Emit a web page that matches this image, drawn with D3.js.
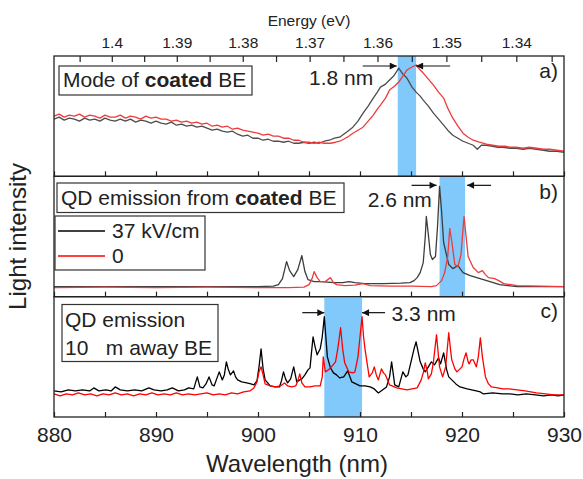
<!DOCTYPE html>
<html>
<head>
<meta charset="utf-8">
<script src="https://cdn.jsdelivr.net/npm/d3@7"></script>
<style>
body { margin: 0; background: #fff; }
text { font-family: "Liberation Sans", Arial, sans-serif; fill: #222; }
</style>
</head>
<body>
<div id="chart"></div>
<script>
// ---- data, intensity in arbitrary units, 0..120 per panel ----
const wavelengthTicks = [880, 890, 900, 910, 920, 930];
const wavelengthMinor = [885, 895, 905, 915, 925];
const energyTicks = [1.4, 1.39, 1.38, 1.37, 1.36, 1.35, 1.34];
const energyMinor = [1.405, 1.395, 1.385, 1.375, 1.365, 1.355, 1.345, 1.335];

// a) mode of coated BE
const modeBlack = [[880,57],[880.5,59],[881,56],[881.5,58],[882,57],[882.5,55],[883,58],[883.5,56],[884,57],[884.5,55],[885,58],[885.5,56],[886,55],[886.5,57],[887,55],[887.5,57],[888,54],[888.5,56],[889,55],[889.5,53],[890,55],[890.5,53],[891,52],[891.5,54],[892,51],[892.5,52],[893,50],[893.5,51],[894,49],[894.5,50],[895,48],[895.5,46],[896,47],[896.5,45],[897,44],[897.5,45],[898,42],[898.5,40],[899,41],[899.5,38],[900,38],[900.5,36],[901,37],[901.5,35],[902,35],[902.5,34],[903,35],[903.5,33],[904,33],[904.5,34],[905,33],[905.5,34],[906,33],[906.5,35],[907,36],[907.5,38],[908,39],[908.4,42],[908.8,45],[909.3,49],[909.8,55],[910.3,63],[910.8,70],[911.3,78],[911.7,84],[912,89],[912.5,92],[912.9,96],[913.3,100],[913.8,108],[914.2,102],[914.6,98],[915.1,89],[915.5,84],[915.9,80],[916.2,76],[916.7,70],[917.2,63],[917.7,57],[918.2,51],[918.6,46],[919.1,41],[919.6,38],[920.1,35],[920.6,33],[921.1,31],[921.5,27],[921.9,31],[922.4,31],[923,30],[923.5,29],[924,29],[924.7,28],[925.3,28],[926,27],[926.6,28],[927.3,27],[928,26],[928.6,25],[929.3,25],[930,24]];
const modeRed = [[880,60],[880.5,62],[881,59],[881.5,61],[882,60],[882.5,62],[883,59],[883.5,61],[884,60],[884.5,58],[885,61],[885.5,59],[886,59],[886.5,61],[887,58],[887.5,60],[888,59],[888.5,57],[889,60],[889.5,58],[890,59],[890.5,57],[891,57],[891.5,55],[892,56],[892.5,54],[893,55],[893.5,53],[894,54],[894.5,52],[895,53],[895.5,50],[896,51],[896.5,49],[897,50],[897.5,47],[898,48],[898.5,46],[899,45],[899.5,44],[900,43],[900.5,41],[901,42],[901.5,40],[902,40],[902.5,38],[903,38],[903.5,36],[904,36],[904.5,34],[905,34],[905.5,33],[906,34],[906.5,33],[907.1,33],[907.6,34],[908,35],[908.4,37],[908.9,40],[909.3,43],[909.8,46],[910.3,49],[910.8,55],[911.3,61],[911.7,67],[912,71],[912.5,78],[912.9,86],[913.4,90],[913.8,94],[914.2,100],[914.6,106],[915.1,109],[915.5,111],[915.9,106],[916.2,103],[916.7,97],[917.2,91],[917.7,84],[918.2,78],[918.6,68],[919.1,58],[919.6,50],[920.1,43],[920.6,39],[921.1,36],[921.7,34],[922.4,32],[923,31],[923.6,30],[924.2,30],[924.7,29],[925.3,29],[926,28],[926.6,29],[927.3,28],[928,27],[928.6,27],[929.3,26],[930,25]];

// b) QD emission from coated BE (37 kV/cm and 0)
const coatedBlack = [[880,10],[885,10],[890,10],[895,10],[900,10],[901.5,10.5],[902,12],[902.4,18],[902.8,35],[903.1,26],[903.5,20],[903.9,27],[904.3,41],[904.6,25],[904.9,17],[905.5,15],[906.2,15],[907.4,14],[908.3,14],[908.9,15],[909.5,14],[910.5,13],[912.3,13],[914,13.5],[914.9,14],[915.3,16],[915.6,19],[915.9,24],[916.2,34],[916.4,60],[916.5,80],[916.7,62],[916.9,42],[917.1,37],[917.4,40],[917.6,70],[917.8,110],[918,85],[918.2,54],[918.7,32],[919.1,28],[919.6,31],[920.1,24],[920.8,21],[922.1,17],[923.7,12],[925.4,10],[930,10]];
const coatedRed = [[880,9],[885,9.5],[890,9],[895,9.5],[900,9],[903,9],[904.5,9.5],[905,12],[905.3,18],[905.5,25],[905.8,19],[906.1,15],[906.6,15],[907.1,19],[907.4,14],[907.7,12],[908.5,11],[909.5,11.5],[910.3,13],[911,11],[913,10.5],[915,10.5],[917,10],[917.5,11],[918,16],[918.3,24],[918.6,40],[918.8,68],[919,55],[919.3,32],[919.6,30],[919.9,42],[920.2,80],[920.4,60],[920.6,40],[921.1,29],[921.6,24],[922,26],[922.3,22],[922.6,19],[923.2,18],[923.6,16],[924.1,13],[925.4,11],[930,10]];

// c) QD emission 10 um away from BE
const awayBlack = [[880,26],[880.7,25],[881.4,27],[882.1,26],[882.8,27],[883.5,26],[883.9,29],[884.4,26],[885.1,27],[885.6,26],[886,30],[886.5,27],[887.2,26],[887.9,27],[888.6,26],[889.3,29],[889.8,27],[890.5,26],[891.1,27],[891.6,29],[892.2,26],[892.8,27],[893.2,29],[893.7,28],[894.05,40],[894.3,30],[894.6,29],[894.9,33],[895.2,40],[895.5,32],[895.7,31],[895.95,38],[896.2,45],[896.5,37],[896.7,42],[896.9,55],[897.1,47],[897.3,42],[897.6,46],[897.8,40],[898,37],[898.4,35],[898.9,34],[899.3,33],[899.6,32],[899.9,36],[900.1,50],[900.3,68],[900.5,48],[900.7,37],[901.2,31],[901.7,30],[902.1,30],[902.3,36],[902.5,45],[902.7,38],[902.9,34],[903.2,38],[903.5,50],[903.7,40],[903.8,35],[904.1,37],[904.3,38],[904.6,42],[904.9,47],[905.1,49],[905.25,65],[905.4,80],[905.6,70],[905.8,62],[906.1,68],[906.3,80],[906.5,100],[906.65,80],[906.8,60],[907.1,49],[907.4,44],[907.7,42],[908,39],[908.4,40],[908.8,46],[909.2,35],[909.6,33],[910,31],[910.5,31],[911,30],[911.4,28],[911.8,24],[912.2,27],[912.6,30],[912.9,40],[913.1,55],[913.3,40],[913.4,32],[913.8,30],[914.2,45],[914.5,40],[914.7,42],[915,55],[915.3,68],[915.5,75],[915.7,65],[915.9,55],[916.2,48],[916.4,45],[916.7,50],[917,55],[917.3,52],[917.7,59],[917.9,53],[918.2,64],[918.5,47],[918.7,40],[919,37],[919.4,33],[919.8,30],[920.5,28],[921.4,26],[921.8,25],[922.1,23],[923,24],[924,23],[924.7,23],[925.5,22],[926.3,23],[927.2,22],[928,21],[928.8,22],[929.4,21],[930,22]];
const awayRed = [[880,23],[880.6,21],[881.2,23],[881.8,22],[882.4,24],[883,22],[883.6,23],[884.2,21],[884.8,23],[885.4,22],[886,24],[886.6,22],[887.2,23],[887.8,21],[888.4,23],[889,22],[889.6,24],[890.2,22],[890.8,23],[891.4,22],[892,24],[892.6,22],[893.2,23],[893.8,22],[894.4,23],[895,24],[895.6,22],[896.2,23],[896.8,22],[897.4,24],[898,23],[898.6,25],[899.2,26],[899.6,29],[899.9,35],[900.1,45],[900.3,50],[900.5,42],[900.7,33],[901.2,31],[901.7,30],[902.2,31],[902.6,34],[902.9,31],[903.3,30],[903.7,31],[903.9,36],[904.1,43],[904.3,34],[904.6,30],[905.1,30],[905.6,31],[906.1,31],[906.3,40],[906.4,60],[906.6,45],[906.9,47],[907.2,50],[907.6,55],[907.85,70],[908.1,89],[908.3,68],[908.5,54],[908.9,45],[909.3,44],[909.5,45],[909.8,60],[910,80],[910.2,100],[910.35,80],[910.5,67],[910.9,40],[911.2,44],[911.4,50],[911.6,42],[911.8,37],[912.1,48],[912.3,44],[912.5,42],[912.9,32],[913.6,29],[914.1,28],[914.6,27],[915.1,28],[915.6,29],[916,37],[916.2,44],[916.4,54],[916.6,45],[916.7,38],[917,43],[917.2,55],[917.5,82],[917.7,60],[917.8,50],[918.1,40],[918.4,50],[918.7,84],[918.9,65],[919,57],[919.3,48],[919.5,45],[920,50],[920.2,58],[920.4,64],[920.6,55],[920.7,53],[920.9,57],[921.1,57],[921.4,50],[921.6,60],[921.8,79],[922,60],[922.3,40],[922.6,33],[922.9,30],[923.5,29],[924,28],[924.6,28],[925.4,27],[926.2,26],[927.3,24],[928.2,23],[929,22],[930,22]];

// highlighted wavelength windows (nm) and their labels
const bandA = [913.7, 915.5];
const bandB = [917.8, 920.3];
const bandC = [906.5, 910.2];
const bandLabels = ['1.8 nm', '2.6 nm', '3.3 nm'];
const legendLabels = ['37 kV/cm', '0'];

// ---- layout ----
const width = 583, height = 479;
const plotLeft = 54, plotRight = 564, plotTop = 56, plotBottom = 417;
const panelH = (plotBottom - plotTop) / 3;

const svg = d3.select('#chart').append('svg')
    .attr('width', width)
    .attr('height', height);

const defs = svg.append('defs');
defs.append('marker')
    .attr('id', 'head')
    .attr('viewBox', '0 0 10 10')
    .attr('refX', 10).attr('refY', 5)
    .attr('markerWidth', 9).attr('markerHeight', 7)
    .attr('markerUnits', 'userSpaceOnUse')
    .attr('orient', 'auto')
    .append('path')
    .attr('d', 'M0,0 L10,5 L0,10 Z')
    .attr('fill', '#111');

const x = d3.scaleLinear().domain([880, 930]).range([plotLeft, plotRight]);

const panels = [
    { black: modeBlack, red: modeRed, band: bandA, ink: ['#4d4d4d', '#ee3b3b'], tag: 'a)',
      arrows: [[-34, -1], [34, 0]], arrowY: 10, label: [905.0, 29], tagY: 22 },
    { black: coatedBlack, red: coatedRed, band: bandB, ink: ['#3d3d3d', '#ee3b3b'], tag: 'b)',
      arrows: [[-25, -3], [24, 2]], arrowY: 9, label: [910.75, 31], tagY: 23 },
    { black: awayBlack, red: awayRed, band: bandC, ink: ['#000', '#ff0000'], tag: 'c)',
      arrows: [[-22, 0], [23, 0]], arrowY: 16, label: [913.1, 24], tagY: 21 }
];

panels.forEach((p, i) => {
    const top = plotTop + i * panelH, bottom = top + panelH;
    const y = d3.scaleLinear().domain([0, 120]).range([bottom, top]);
    const g = svg.append('g');

    // blue window
    g.append('rect')
        .attr('x', x(p.band[0]))
        .attr('y', top)
        .attr('width', x(p.band[1]) - x(p.band[0]))
        .attr('height', panelH)
        .attr('fill', '#80c9fa');

    const line = d3.line().x(d => x(d[0])).y(d => y(d[1]));
    [p.black, p.red].forEach((series, k) => {
        g.append('path')
            .datum(series)
            .attr('d', line)
            .attr('fill', 'none')
            .attr('stroke', p.ink[k])
            .attr('stroke-width', 1.3)
            .attr('stroke-linejoin', 'round');
    });

    // inward ticks on the bottom edge
    const axis = d3.axisBottom(x)
        .tickValues(wavelengthTicks.concat(wavelengthMinor))
        .tickSizeInner(-5).tickSizeOuter(0)
        .tickFormat('');
    const ax = g.append('g').attr('transform', `translate(0,${bottom})`).call(axis);
    ax.select('.domain').remove();
    ax.selectAll('line').attr('stroke', '#222').attr('stroke-width', 1.2);

    // frame
    g.append('rect')
        .attr('x', plotLeft).attr('y', top)
        .attr('width', plotRight - plotLeft).attr('height', panelH)
        .attr('fill', 'none').attr('stroke', '#222').attr('stroke-width', 1.3);

    // arrows pointing at the window edges
    const ay = top + p.arrowY;
    const xl = x(p.band[0]) + p.arrows[0][1], xr = x(p.band[1]) + p.arrows[1][1];
    [[xl + p.arrows[0][0], xl], [xr + p.arrows[1][0], xr]].forEach(([x1, x2]) => {
        g.append('line')
            .attr('x1', x1).attr('x2', x2)
            .attr('y1', ay).attr('y2', ay)
            .attr('stroke', '#111').attr('stroke-width', 1.2)
            .attr('marker-end', 'url(#head)');
    });
    g.append('text')
        .attr('x', x(p.label[0])).attr('y', top + p.label[1])
        .attr('font-size', 21)
        .text(bandLabels[i]);
    g.append('text')
        .attr('x', 558).attr('y', top + p.tagY)
        .attr('text-anchor', 'end')
        .attr('font-size', 21)
        .text(p.tag);
});

// ---- bottom axis labels ----
const bottomAxis = svg.append('g')
    .attr('transform', `translate(0,${plotBottom})`)
    .call(d3.axisBottom(x).tickValues(wavelengthTicks).tickSize(0).tickPadding(10));
bottomAxis.select('.domain').remove();
bottomAxis.selectAll('text')
    .attr('font-size', 21)
    .attr('font-family', '"Liberation Sans", Arial, sans-serif')
    .attr('fill', '#222');

svg.append('text')
    .attr('x', 297).attr('y', 472)
    .attr('text-anchor', 'middle')
    .attr('font-size', 24)
    .text('Wavelength (nm)');

svg.append('text')
    .attr('transform', `translate(26,${(plotTop + plotBottom) / 2}) rotate(-90)`)
    .attr('text-anchor', 'middle')
    .attr('font-size', 24)
    .text('Light intensity');

// ---- top energy axis (E = 1240 / lambda) ----
const ex = e => x(1240 / e);
const topAxis = svg.append('g');
topAxis.selectAll('line')
    .data(energyTicks.concat(energyMinor))
    .join('line')
    .attr('x1', d => ex(d)).attr('x2', d => ex(d))
    .attr('y1', plotTop).attr('y2', plotTop + 6)
    .attr('stroke', '#222').attr('stroke-width', 1.2);
topAxis.selectAll('text')
    .data(energyTicks)
    .join('text')
    .attr('x', d => ex(d)).attr('y', 48)
    .attr('text-anchor', 'middle')
    .attr('font-size', 15.5)
    .text(d => d);
svg.append('text')
    .attr('x', 309).attr('y', 26)
    .attr('text-anchor', 'middle')
    .attr('font-size', 15.5)
    .text('Energy (eV)');

// ---- text boxes ----
function box(x0, y0, w, h) {
    svg.append('rect')
        .attr('x', x0).attr('y', y0).attr('width', w).attr('height', h)
        .attr('fill', '#fff').attr('stroke', '#333').attr('stroke-width', 1.2);
}

box(59, 66, 193, 29);
const ta = svg.append('text').attr('x', 63).attr('y', 87).attr('font-size', 21);
ta.append('tspan').text('Mode of ');
ta.append('tspan').attr('font-weight', 'bold').text('coated');
ta.append('tspan').text(' BE');

box(57, 183, 287, 29.5);
const tb = svg.append('text').attr('x', 61).attr('y', 205).attr('font-size', 21);
tb.append('tspan').text('QD emission from ');
tb.append('tspan').attr('font-weight', 'bold').text('coated');
tb.append('tspan').text(' BE');

// legend
box(55, 216, 150, 54);
['#000', '#ff0000'].forEach((c, k) => {
    const ly = 231 + k * 25;
    svg.append('line')
        .attr('x1', 58).attr('x2', 105)
        .attr('y1', ly).attr('y2', ly)
        .attr('stroke', c).attr('stroke-width', 1.3);
    svg.append('text')
        .attr('x', 112).attr('y', ly + 7)
        .attr('font-size', 21)
        .text(legendLabels[k]);
});

box(62, 304.5, 156, 57);
svg.append('text').attr('x', 65).attr('y', 327).attr('font-size', 21).text('QD emission');
svg.append('text').attr('x', 65).attr('y', 355).attr('font-size', 21)
    .style('white-space', 'pre')
    .text('10   m away BE');
</script>
</body>
</html>
